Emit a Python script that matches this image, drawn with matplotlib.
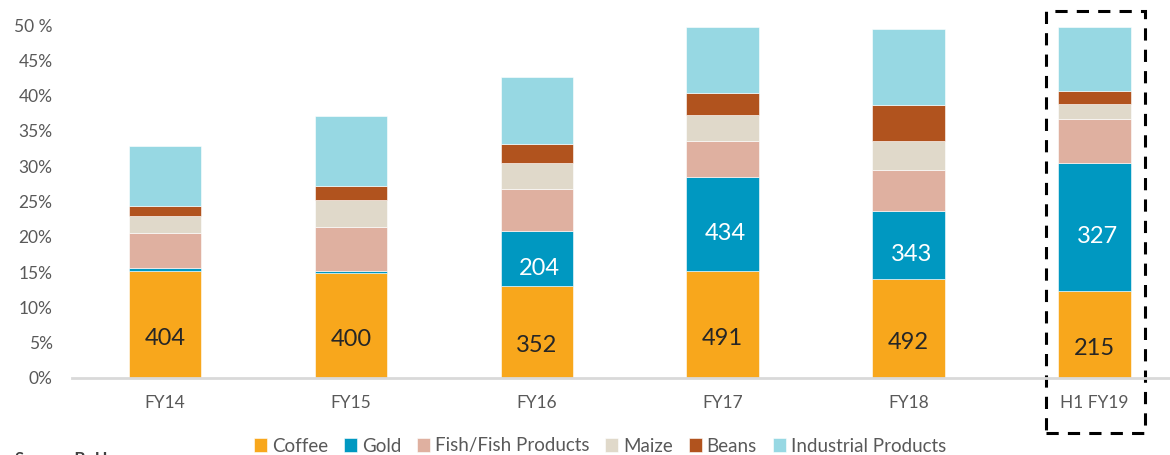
# Title: export_share_stacked.py
# Description: stacked bar chart of export shares by commodity

#____________________________________________________________________________________________________
# imports
import matplotlib
matplotlib.use("Agg")
import matplotlib.pyplot as plt
import matplotlib.patches as patches
import numpy as np

#____________________________________________________________________________________________________
# data (share of exports, %)
periods = ["FY14", "FY15", "FY16", "FY17", "FY18", "H1 FY19"]
coffee = [15.2, 14.9, 13.1, 15.2, 14.0, 12.3]
gold = [0.4, 0.3, 7.7, 13.2, 9.7, 18.2]
fish = [4.9, 6.2, 5.9, 5.1, 5.7, 6.2]
maize = [2.4, 3.8, 3.8, 3.8, 4.1, 2.1]
beans = [1.5, 2.0, 2.7, 3.0, 5.1, 1.9]
industrial = [8.5, 9.9, 9.5, 9.4, 10.8, 9.0]
coffee_labels = ["404", "400", "352", "491", "492", "215"]
gold_labels = ["", "", "204", "434", "343", "327"]
series_names = ["Coffee", "Gold", "Fish/Fish Products", "Maize", "Beans", "Industrial Products"]
y_ticks = [0, 5, 10, 15, 20, 25, 30, 35, 40, 45, 50]
y_ticklabels = ["0%", "5%", "10%", "15%", "20%", "25%", "30%", "35%", "40%", "45%", "50 %"]

#____________________________________________________________________________________________________
# set ups
colors = ["#F8A71C", "#0098C1", "#DFB0A0", "#E0D9CA", "#B1531E", "#97D8E3"]
text_grey = "#595959"
plt.rcParams["font.family"] = ["Lato", "DejaVu Sans"]


def draw_chart():
    fig = plt.figure(figsize=(11.7, 4.55), dpi=100)
    W, H = 1170, 455
    # axes spans x 72..1187 px (right side cut by figure), y 25..378 px
    ax = fig.add_axes([72 / W, 1 - 378 / H, (1187.5 - 72) / W, (378 - 25) / H])

    x = np.arange(len(periods))
    stack = [coffee, gold, fish, maize, beans, industrial]
    bottom = np.zeros(len(periods))
    handles = []
    for vals, col, name in zip(stack, colors, series_names):
        b = ax.bar(x, vals, width=0.39, bottom=bottom, color=col, label=name,
                   edgecolor="white", linewidth=0.4)
        handles.append(b)
        bottom = bottom + np.array(vals)

    # data labels
    for i in range(len(periods)):
        ax.annotate(coffee_labels[i], (x[i], coffee[i] / 2), xytext=(0, -10),
                    textcoords="offset points", ha="center", va="center",
                    fontsize=17, color="#262626")
        if gold_labels[i]:
            ax.annotate(gold_labels[i], (x[i], coffee[i] + gold[i] / 2), xytext=(2, -7),
                        textcoords="offset points", ha="center", va="center",
                        fontsize=17, color="white")

    ax.set_xlim(-0.5, 5.5)
    ax.set_ylim(0, 50)
    ax.set_xticks(x)
    ax.set_xticklabels(periods, fontsize=12.5, color=text_grey)
    ax.set_yticks(y_ticks)
    ax.set_yticklabels(y_ticklabels, fontsize=12.5, color=text_grey)
    ax.tick_params(axis="both", length=0)
    ax.tick_params(axis="y", pad=14)
    ax.tick_params(axis="x", pad=12)
    for s in ["top", "right", "left"]:
        ax.spines[s].set_visible(False)
    ax.spines["bottom"].set_color("#D9D9D9")
    ax.spines["bottom"].set_linewidth(2)

    # dashed highlight box round the last bar
    box = patches.Rectangle((4.74, -7.8), 0.53, 59.8, fill=False, edgecolor="black",
                            linewidth=2.2, linestyle=(0, (4, 3)), clip_on=False)
    ax.add_patch(box)

    fig.legend(handles=handles, labels=series_names, loc="center",
               bbox_to_anchor=(600 / W, 1 - 446 / H), ncol=6, frameon=False,
               fontsize=13.5, handlelength=0.7, handleheight=0.7,
               handletextpad=0.25, columnspacing=0.85, labelcolor=text_grey)

    fig.text(15 / W, 1 - 451 / H, "Source: BoU", fontsize=12, fontweight="bold",
             color="#404040", va="top", ha="left")

    fig.savefig("out.png", dpi=100)


def main():
    draw_chart()


#____________________________________________________________________________________________________
# main
if __name__ == "__main__":
    main()
